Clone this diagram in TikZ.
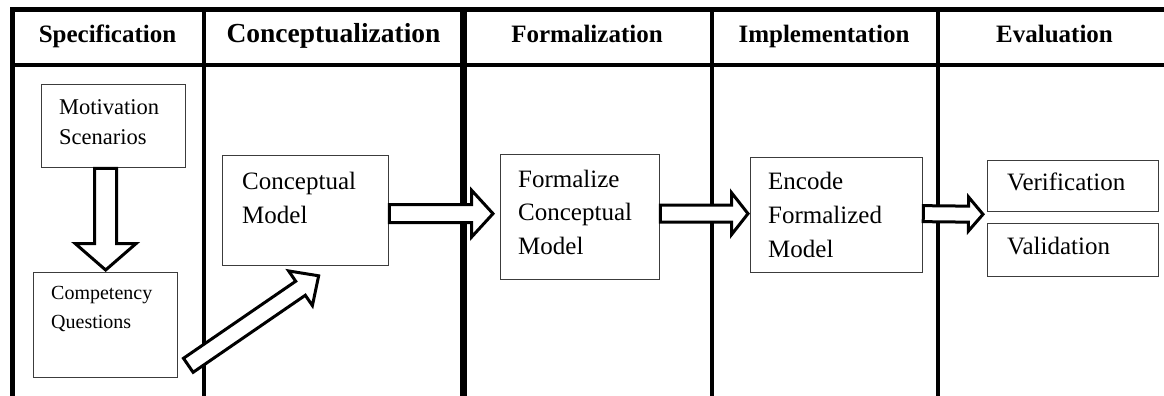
\documentclass[tikz,border=0pt]{standalone}
\usepackage{fontspec}
\setmainfont{Liberation Serif}
\usetikzlibrary{positioning, calc}
\definecolor{boxborder}{RGB}{60,60,60}
\tikzset{
    gridline/.style={line width=4.5pt, black},
    phase/.style={anchor=base, inner sep=0pt, font=\bfseries\fontsize{25}{30}\selectfont},
    stage/.style={rectangle, draw=boxborder, line width=1.3pt, anchor=north west, inner sep=0pt},
    stagetext/.style={inner sep=0pt, align=left, font=\fontsize{25}{34}\selectfont},
    fatarrow/.style={draw=black, fill=white, line width=3pt, line join=miter}
}
% #1 tail, #2 tip, #3 half shaft, #4 half head, #5 head length
\newcommand{\blockarrow}[5]{%
    \coordinate (ba-h) at ($(#2)!#5!(#1)$);
    \draw[fatarrow] ($(#1)!#3!90:(#2)$) -- ($(ba-h)!#3!90:(#2)$) -- ($(ba-h)!#4!90:(#2)$)
        -- (#2) -- ($(ba-h)!#4!-90:(#2)$) -- ($(ba-h)!#3!-90:(#2)$) -- ($(#1)!#3!-90:(#2)$) -- cycle;
}

\begin{document}
\begin{tikzpicture}[x=1pt, y=-1pt]
    \useasboundingbox (0,0) rectangle (1164,396);

    % table lines
    \draw[gridline] (10.25,9.5) -- (1164,9.5);
    \draw[gridline] (10.25,65) -- (1164,65);
    \foreach \x in {12.5, 204, 712, 938}
        \draw[gridline] (\x,7.25) -- (\x,396);
    \draw[gridline, line width=6.5pt] (463.5,7.25) -- (463.5,396);

    % column heads
    \node[phase] (spec) at (107.5,43) {Specification};
    \node[phase, font=\bfseries\fontsize{27.5}{30}\selectfont] (conc) at (333.5,43) {Conceptualization};
    \node[phase] (form) at (587,43) {Formalization};
    \node[phase] (impl) at (824,43) {Implementation};
    \node[phase] (eval) at (1054.5,43) {Evaluation};

    % boxes
    \node[stage, minimum width=144pt, minimum height=83pt] (mot) at (41,84) {};
    \node[stagetext, font=\fontsize{22.5}{30}\selectfont, below right=15.5pt and 18pt of mot.north west] (mot-t) {Motivation\\Scenarios};
    \node[stage, minimum width=144pt, minimum height=105pt] (comp) at (33,272) {};
    \node[stagetext, font=\fontsize{20}{28.5}\selectfont, below right=14.5pt and 18pt of comp.north west] (comp-t) {Competency\\Questions};
    \node[stage, minimum width=166pt, minimum height=109.5pt] (cm) at (222,155) {};
    \node[stagetext, below right=16.5pt and 20pt of cm.north west] (cm-t) {Conceptual\\Model};
    \node[stage, minimum width=159pt, minimum height=125pt] (fcm) at (500,154) {};
    \node[stagetext, font=\fontsize{25}{33.5}\selectfont, below right=15.5pt and 18pt of fcm.north west] (fcm-t) {Formalize\\Conceptual\\Model};
    \node[stage, minimum width=172pt, minimum height=115pt] (efm) at (750,157) {};
    \node[stagetext, below right=14.5pt and 18pt of efm.north west] (efm-t) {Encode\\Formalized\\Model};
    \node[stage, minimum width=171pt, minimum height=51pt] (ver) at (987,160) {};
    \node[stagetext, below right=12.5pt and 20pt of ver.north west] (ver-t) {Verification};
    \node[stage, minimum width=171pt, minimum height=53pt] (val) at (987,223) {};
    \node[stagetext, below right=13.5pt and 20pt of val.north west] (val-t) {Validation};

    % block arrows
    \coordinate (d-s) at (comp.north |- mot.south);
    \coordinate (d-e) at ([yshift=2pt]comp.north);
    \coordinate (q-s) at ([shift={(10pt,13pt)}]comp.south east);
    \coordinate (q-e) at ([shift={(13pt,-10pt)}]cm.south);
    \coordinate (c-s) at ([yshift=-3.25pt]cm.east);
    \coordinate (c-e) at ([shift={(-7pt,3.5pt)}]fcm.west);
    \coordinate (f-s) at ([yshift=3.5pt]fcm.east);
    \coordinate (f-e) at ([shift={(-2pt,1.5pt)}]efm.west);
    \coordinate (e-s) at ([yshift=1.5pt]efm.east);
    \coordinate (e-e) at ([shift={(-4pt,-2pt)}]ver.south west);

    \blockarrow{d-s}{d-e}{11pt}{30.5pt}{26.5pt}
    \blockarrow{q-s}{q-e}{8.5pt}{21pt}{22pt}
    \blockarrow{c-s}{c-e}{9pt}{23.5pt}{21.5pt}
    \blockarrow{f-s}{f-e}{8.5pt}{21pt}{16.5pt}
    \blockarrow{e-s}{e-e}{8pt}{17pt}{14.5pt}
\end{tikzpicture}
\end{document}
